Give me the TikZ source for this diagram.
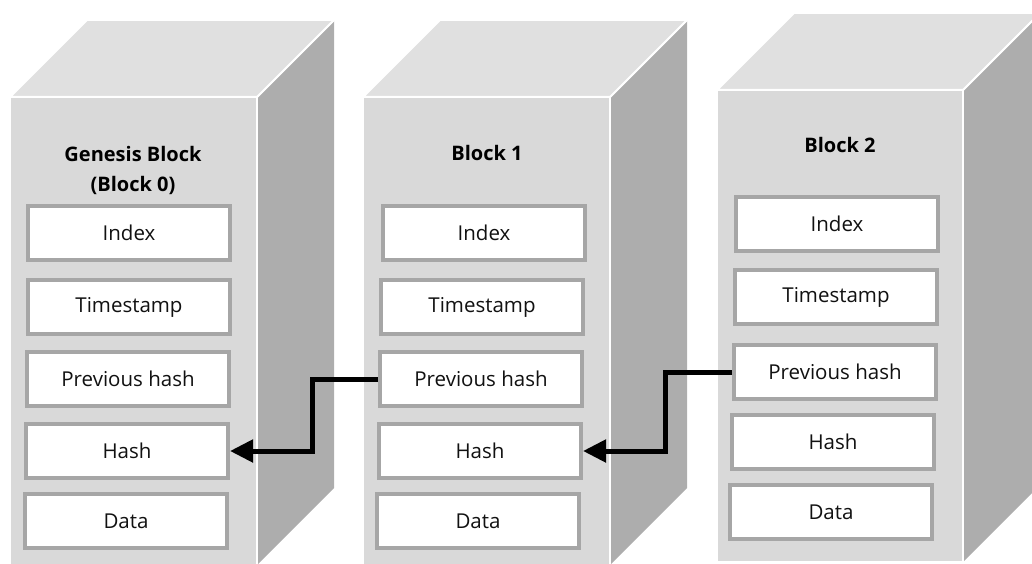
\documentclass[tikz,border=0pt]{standalone}
\usepackage{fontspec}
\setmainfont{Open Sans}
\usetikzlibrary{arrows.meta}
\definecolor{frontc}{HTML}{D9D9D9}
\definecolor{topc}{HTML}{E0E0E0}
\definecolor{sidec}{HTML}{ADADAD}
\definecolor{boxline}{HTML}{A6A6A6}
\definecolor{txt}{HTML}{111111}
\tikzset{
  face/.style={draw=white, line width=2pt, line join=miter},
  field/.style={draw=boxline, fill=white, line width=4pt, minimum width=202pt, minimum height=54pt,
    inner sep=0pt, text=txt, font=\fontsize{20.5}{24}\selectfont},
  title/.style={font=\bfseries\fontsize{20}{30}\selectfont, align=center, text=black},
  link/.style={line width=5pt, line join=miter, -{Triangle[length=23pt,width=22pt]}}
}
\newcommand{\cube}[6]{% name, x0, x1, y0, y1, d
  \fill[sidec] (#3,#4) -- ++(#6,-#6) -- (#3+#6,#5-#6) -- (#3,#5) -- cycle;
  \draw[face] (#3,#4) -- ++(#6,-#6);
  \filldraw[face, fill=topc] (#2,#4) -- (#2+#6,#4-#6) -- (#3+#6,#4-#6) -- (#3,#4) -- cycle;
  \filldraw[face, fill=frontc] (#2,#4) rectangle (#3,#5);
}
\begin{document}
\begin{tikzpicture}[x=1pt,y=-1pt]
\useasboundingbox (0,0) rectangle (1032,564);
\clip (0,0) rectangle (1032,564);
\cube{b0}{10}{257}{97}{565}{77}
\cube{b1}{363}{610}{97}{565}{77}
\cube{b2}{717}{963}{90}{562}{77}

% Block 0
\node[title] (t0) at (133,170) {Genesis Block\\(Block 0)};
\node[field] (i0) at (129,233) {Index};
\node[field] (s0) at (129,307) {Timestamp};
\node[field] (p0) at (128,379) {Previous hash};
\node[field] (h0) at (127,451) {Hash};
\node[field] (d0) at (126,521) {Data};

% Block 1
\node[title] (t1) at (487,153) {Block 1};
\node[field] (i1) at (484,233) {Index};
\node[field] (s1) at (482,307) {Timestamp};
\node[field] (p1) at (481,379) {Previous hash};
\node[field] (h1) at (480,451) {Hash};
\node[field] (d1) at (478,521) {Data};

% Block 2
\node[title] (t2) at (840,145) {Block 2};
\node[field] (i2) at (837,224) {Index};
\node[field] (s2) at (836,297) {Timestamp};
\node[field] (p2) at (835,372) {Previous hash};
\node[field] (h2) at (833,442) {Hash};
\node[field] (d2) at (831,512) {Data};

% Links
\coordinate (m1) at (312,0);
\coordinate (m2) at (665,0);
\draw[link] (p1.west) -- (p1.west -| m1) |- (h0.east);
\draw[link] (p2.west) -- (p2.west -| m2) |- (h1.east);
\end{tikzpicture}
\end{document}
